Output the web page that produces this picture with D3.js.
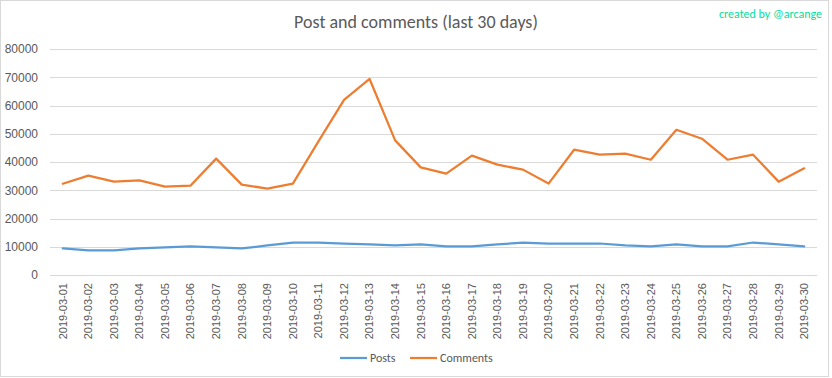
<!DOCTYPE html>
<html>
<head>
<meta charset="utf-8">
<script src="https://cdn.jsdelivr.net/npm/d3@7"></script>
<style>
  body { margin: 0; background: #fff; }
  svg { display: block; font-family: Calibri, Carlito, 'Open Sans', sans-serif; }
</style>
</head>
<body>
<div id="chart"></div>
<script>
const dates = d3.range(1, 31).map(d => `2019-03-${String(d).padStart(2, '0')}`)

const posts = [
  9400, 8700, 8700, 9400, 9750, 10100, 9750, 9400, 10450, 11500,
  11500, 11150, 10800, 10450, 10800, 10100, 10100, 10800, 11500, 11150,
  11150, 11150, 10450, 10100, 10800, 10100, 10100, 11500, 10800, 10100
]

const comments = [
  32300, 35200, 33050, 33500, 31300, 31650, 41200, 32000, 30600, 32350,
  47300, 62000, 69400, 47650, 38100, 35900, 42250, 39050, 37300, 32350,
  44350, 42600, 42950, 40800, 51400, 48250, 40800, 42600, 33050, 37750
]

const yTicks = [0, 10000, 20000, 30000, 40000, 50000, 60000, 70000, 80000]

const series = [
  { name: 'Posts', values: posts, color: '#5b9bd5' },
  { name: 'Comments', values: comments, color: '#ed7d31' }
]

const width = 832
const height = 378
const margin = { top: 49, right: 15, bottom: 103, left: 50 }

const svg = d3
  .select('#chart')
  .append('svg')
  .attr('width', width)
  .attr('height', height)

svg
  .append('rect')
  .attr('x', 0.5)
  .attr('y', 0.5)
  .attr('width', 828)
  .attr('height', 376)
  .attr('fill', '#fff')
  .attr('stroke', '#d9d9d9')

const x = d3
  .scaleBand()
  .domain(dates)
  .range([margin.left, width - margin.right])

const y = d3
  .scaleLinear()
  .domain([0, 80000])
  .range([height - margin.bottom, margin.top])

// gridlines
svg
  .append('g')
  .selectAll('line')
  .data(yTicks)
  .join('line')
  .attr('x1', margin.left)
  .attr('x2', width - margin.right)
  .attr('y1', d => Math.round(y(d)) + 0.5)
  .attr('y2', d => Math.round(y(d)) + 0.5)
  .attr('stroke', '#d9d9d9')

const yAxis = g =>
  g
    .attr('transform', `translate(${margin.left}, 0)`)
    .call(d3.axisLeft(y).tickValues(yTicks).tickSize(0).tickPadding(12).tickFormat(d3.format('d')))
    .call(g => g.select('.domain').remove())
    .call(g => g.selectAll('text').attr('fill', '#595959').style('font-size', '12px'))

const xAxis = g =>
  g
    .attr('transform', `translate(0, ${height - margin.bottom})`)
    .call(d3.axisBottom(x).tickSize(0).tickPadding(0))
    .call(g => g.select('.domain').remove())
    .call(g =>
      g
        .selectAll('text')
        .attr('fill', '#595959')
        .style('font-size', '11px')
        .attr('transform', 'rotate(-90)')
        .attr('text-anchor', 'end')
        .attr('dx', '-8')
        .attr('dy', '0.35em')
        .attr('y', 0)
    )

svg.append('g').call(yAxis)
svg.append('g').call(xAxis)

const line = d3
  .line()
  .x((_, i) => x(dates[i]) + x.bandwidth() / 2)
  .y(d => y(d))

svg
  .append('g')
  .selectAll('path')
  .data(series)
  .join('path')
  .attr('d', d => line(d.values))
  .attr('fill', 'none')
  .attr('stroke', d => d.color)
  .attr('stroke-width', 2.25)
  .attr('stroke-linejoin', 'round')
  .attr('stroke-linecap', 'round')

// title
svg
  .append('text')
  .attr('x', 416)
  .attr('y', 28)
  .attr('text-anchor', 'middle')
  .attr('fill', '#595959')
  .style('font-size', '18px')
  .text('Post and comments (last 30 days)')

svg
  .append('text')
  .attr('x', 822)
  .attr('y', 18)
  .attr('text-anchor', 'end')
  .attr('fill', '#00e0a0')
  .style('font-size', '12px')
  .text('created by @arcange')

// legend
const legendX = [340, 410]
const legend = svg
  .append('g')
  .selectAll('g')
  .data(series)
  .join('g')
  .attr('transform', (_, i) => `translate(${legendX[i]}, 358)`)

legend
  .append('line')
  .attr('x1', 0)
  .attr('x2', 27)
  .attr('stroke', d => d.color)
  .attr('stroke-width', 2.25)

legend
  .append('text')
  .attr('x', 30)
  .attr('dy', '0.35em')
  .attr('fill', '#595959')
  .style('font-size', '12px')
  .text(d => d.name)
</script>
</body>
</html>
